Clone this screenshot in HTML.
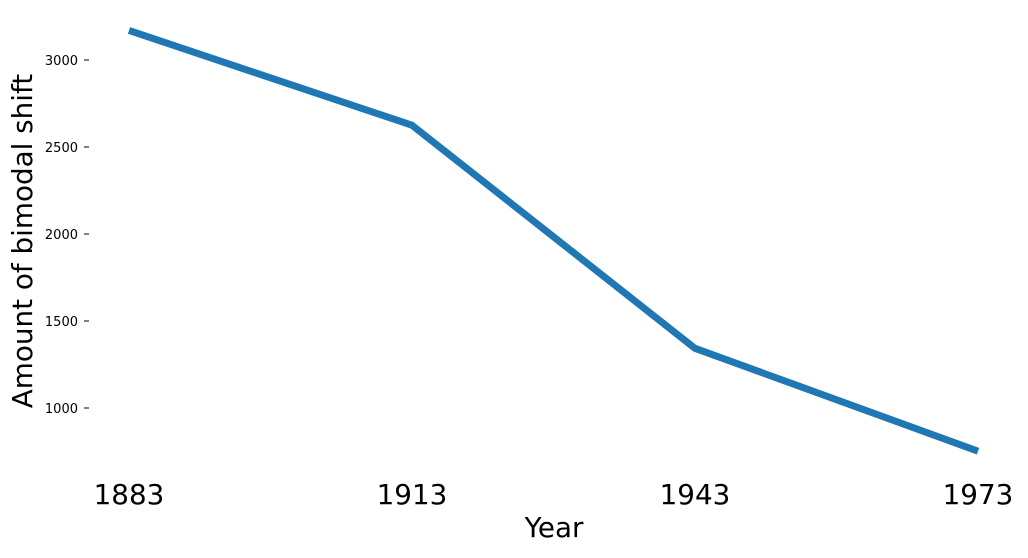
<!DOCTYPE html>
<html><head><meta charset="utf-8"><style>
body{margin:0;background:#fff;}
svg text{font-family:"DejaVu Sans","Liberation Sans",sans-serif;}
</style></head><body>
<svg id="chart" width="1028" height="553" xmlns="http://www.w3.org/2000/svg">
<g id="yaxis"></g>
<g id="xaxis"></g>
<text x="0" y="0" transform="translate(32,241) rotate(-90)" text-anchor="middle" font-size="27.8">Amount of bimodal shift</text>
<text x="554" y="537" text-anchor="middle" font-size="27.8">Year</text>
<g id="series"></g>
</svg>
<script>
const years = [1883, 1913, 1943, 1973];
const shiftValues = [3170, 2625, 1343, 752];
const yTicks = [1000, 1500, 2000, 2500, 3000];
const xTicks = [1883, 1913, 1943, 1973];
const NS = "http://www.w3.org/2000/svg";
function xScale(v){return 129 + (v-1883)*(978-129)/90;}
function yScale(v){return 408 - (v-1000)*(408-60)/2000;}
const ya = document.getElementById('yaxis');
yTicks.forEach(t=>{
  const l=document.createElementNS(NS,'line');
  
  
  l.setAttribute('x1',84);l.setAttribute('x2',89);
  l.setAttribute('y1',yScale(t));l.setAttribute('y2',yScale(t));
  l.setAttribute('stroke','#000');l.setAttribute('stroke-width',1);
  ya.appendChild(l);
  const tx=document.createElementNS(NS,'text');
  
  
  tx.setAttribute('x',78);tx.setAttribute('y',yScale(t)+5);
  tx.setAttribute('text-anchor','end');tx.setAttribute('font-size','13');
  tx.textContent=t;ya.appendChild(tx);
});
const xa=document.getElementById('xaxis');
xTicks.forEach(t=>{
  const tx=document.createElementNS(NS,'text');
  
  
  tx.setAttribute('x',xScale(t));tx.setAttribute('y',504);
  tx.setAttribute('text-anchor','middle');tx.setAttribute('font-size','27.8');
  tx.textContent=t;xa.appendChild(tx);
});
const p=document.createElementNS(NS,'polyline');


p.setAttribute('points',years.map((y,i)=>xScale(y)+','+yScale(shiftValues[i])).join(' '));
p.setAttribute('fill','none');p.setAttribute('stroke','#1f77b4');
p.setAttribute('stroke-width',7);p.setAttribute('stroke-linejoin','round');
document.getElementById('series').appendChild(p);
</script>
</body></html>
